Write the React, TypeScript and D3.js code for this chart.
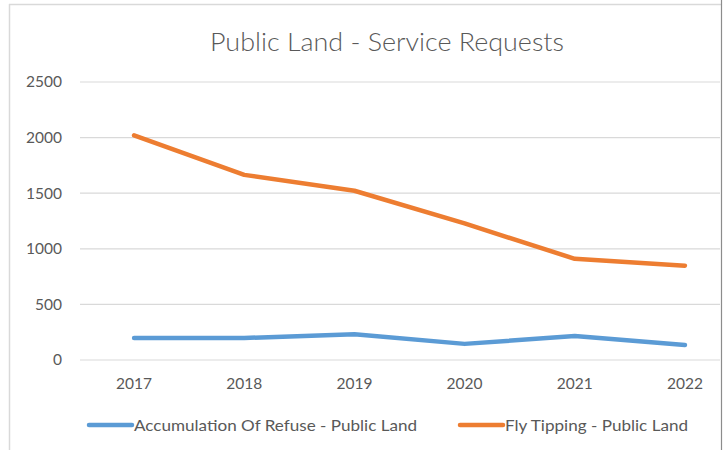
import React from "react";
import * as d3 from "d3";

const years = ["2017", "2018", "2019", "2020", "2021", "2022"];
const refuse = [198, 198, 232, 145, 215, 135];
const flyTipping = [2020, 1665, 1522, 1228, 910, 848];
const yTicks = [0, 500, 1000, 1500, 2000, 2500];
const seriesNames = ["Accumulation Of Refuse - Public Land", "Fly Tipping - Public Land"];
const seriesColors = ["#5B9BD5", "#ED7D31"];
const title = "Public Land - Service Requests";

const W = 723;
const H = 450;
const FONT = "Lato, 'Open Sans', sans-serif";

export default function App() {
  const x = d3.scalePoint<string>().domain(years).range([79, 740]).padding(0.5);
  const y = d3.scaleLinear().domain([0, 2500]).range([360, 82]);
  const line = d3
    .line<number>()
    .x((_, i) => x(years[i]) as number)
    .y((d) => y(d));
  const series = [refuse, flyTipping];

  return (
    <svg
      width={W}
      height={H}
      style={{ position: "fixed", left: 0, top: 0, background: "#fff" }}
      fontFamily={FONT}
    >
      <rect x={0} y={0} width={W} height={H} fill="#fff" />
      {/* chart border */}
      <line x1={9.5} y1={4} x2={9.5} y2={H} stroke="#d9d9d9" strokeWidth={1.5} />
      <line x1={9} y1={4.5} x2={721} y2={4.5} stroke="#d9d9d9" strokeWidth={1.5} />
      <line x1={721.5} y1={0} x2={721.5} y2={H} stroke="#8c8c8c" strokeWidth={1.2} />

      <text
        x={387}
        y={51}
        textAnchor="middle"
        fontSize={26}
        fontWeight={300}
        fill="#595959"
        textLength={354}
        lengthAdjust="spacingAndGlyphs"
      >
        {title}
      </text>

      {yTicks.map((t) => (
        <g key={t}>
          <line x1={80} x2={720} y1={y(t)} y2={y(t)} stroke="#d9d9d9" strokeWidth={1.2} />
          <text x={62} y={y(t)} dy="0.35em" textAnchor="end" fontSize={15.5} fill="#595959">
            {t}
          </text>
        </g>
      ))}

      {years.map((yr) => (
        <text key={yr} x={x(yr)} y={389} textAnchor="middle" fontSize={15.5} fill="#595959">
          {yr}
        </text>
      ))}

      {series.map((s, i) => (
        <path
          key={i}
          d={line(s) || ""}
          fill="none"
          stroke={seriesColors[i]}
          strokeWidth={4.5}
          strokeLinecap="round"
          strokeLinejoin="round"
        />
      ))}

      {/* legend */}
      {[
        { lx: 89, tx: 134, tw: 283 },
        { lx: 460, tx: 505, tw: 183 },
      ].map((l, i) => (
        <g key={i}>
          <line
            x1={l.lx}
            x2={l.lx + 43}
            y1={425}
            y2={425}
            stroke={seriesColors[i]}
            strokeWidth={4.5}
            strokeLinecap="round"
          />
          <text
            x={l.tx}
            y={425}
            dy="0.35em"
            fontSize={16}
            fill="#595959"
            textLength={l.tw}
            lengthAdjust="spacingAndGlyphs"
          >
            {seriesNames[i]}
          </text>
        </g>
      ))}
    </svg>
  );
}
